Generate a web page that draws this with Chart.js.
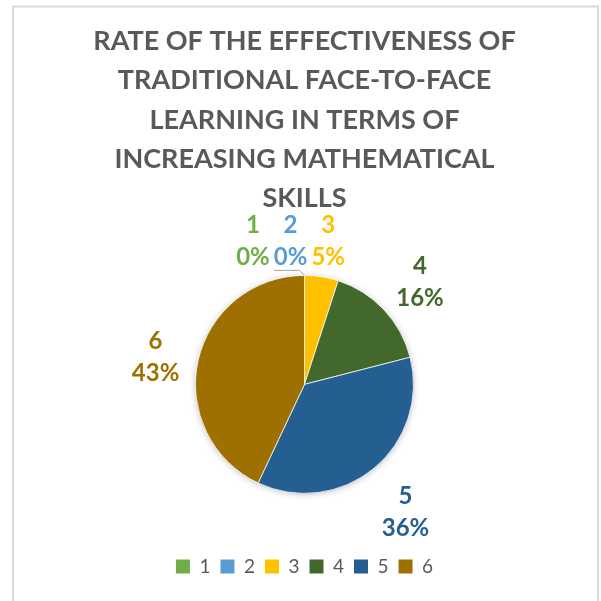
<!DOCTYPE html>
<html>
<head>
<meta charset="utf-8">
<script src="https://cdn.jsdelivr.net/npm/chart.js@4.4.1/dist/chart.umd.min.js"></script>
<style>
  html, body { margin: 0; padding: 0; background: #fff; }
  #wrap { position: relative; width: 601px; height: 601px; }
</style>
</head>
<body>
<div id="wrap"><canvas id="c" width="601" height="601"></canvas></div>
<script>
const titleLines = ['RATE OF THE EFFECTIVENESS OF', 'TRADITIONAL FACE-TO-FACE', 'LEARNING IN TERMS OF', 'INCREASING MATHEMATICAL', 'SKILLS'];
const categories = ['1', '2', '3', '4', '5', '6'];
const values = [0, 0, 5, 16, 36, 43];
const sliceColors = ['#70AD47', '#5B9BD5', '#FFC000', '#43682B', '#255E91', '#9E7000'];

const FONT = 'Lato, "Open Sans", sans-serif';
const TEXT_GRAY = '#595959';

const framePlugin = {
  id: 'frame',
  beforeDraw(chart) {
    const ctx = chart.ctx;
    ctx.save();
    ctx.fillStyle = '#fff';
    ctx.fillRect(0, 0, chart.width, chart.height);
    ctx.strokeStyle = '#D9D9D9';
    ctx.lineWidth = 2;
    ctx.strokeRect(13, 6.5, 585, 640);
    ctx.restore();
  }
};

const shadowPlugin = {
  id: 'pieShadow',
  beforeDatasetsDraw(chart) {
    const arc = chart.getDatasetMeta(0).data[0];
    if (!arc) return;
    const p = arc.getProps(['x', 'y', 'outerRadius'], true);
    const ctx = chart.ctx;
    ctx.save();
    ctx.shadowColor = 'rgba(0,0,0,0.28)';
    ctx.shadowBlur = 7;
    ctx.shadowOffsetX = 0;
    ctx.shadowOffsetY = 1;
    ctx.fillStyle = '#ffffff';
    ctx.beginPath();
    ctx.arc(p.x, p.y, p.outerRadius - 0.5, 0, Math.PI * 2);
    ctx.fill();
    ctx.restore();
  }
};

const labelPlugin = {
  id: 'sliceLabels',
  afterDatasetsDraw(chart) {
    const ctx = chart.ctx;
    const meta = chart.getDatasetMeta(0);
    const total = values.reduce((a, b) => a + b, 0);
    const GAP = 15, LH = 32, H = 50, SEP = 4, DROP = 6;
    ctx.save();
    ctx.font = '700 24px ' + FONT;
    const items = meta.data.map((arc, i) => {
      const p = arc.getProps(['x', 'y', 'startAngle', 'endAngle', 'outerRadius'], true);
      const mid = (p.startAngle + p.endAngle) / 2;
      const lines = [categories[i], Math.round(values[i] / total * 100) + '%'];
      const w = Math.max(...lines.map(t => ctx.measureText(t).width));
      const dx = Math.cos(mid), dy = Math.sin(mid);
      const ext = Math.abs(dx) * w / 2 + Math.abs(dy) * H / 2;
      const d = p.outerRadius + GAP + ext;
      const cx = p.x + dx * d, cy = p.y + dy * d + DROP;
      return { i, lines, w, cx, cy, nx: cx, ax: p.x + dx * p.outerRadius, ay: p.y + dy * p.outerRadius };
    });
    const sorted = items.slice().sort((a, b) => (a.cx - b.cx) || (a.i - b.i));
    for (let k = sorted.length - 2; k >= 0; k--) {
      const a = sorted[k], b = sorted[k + 1];
      if (Math.abs(a.cy - b.cy) < H && a.cx + a.w / 2 + SEP > b.cx - b.w / 2) {
        a.cx = b.cx - b.w / 2 - SEP - a.w / 2;
      }
    }
    items.forEach(it => {
      if (Math.abs(it.cx - it.nx) > 20) {
        const ly = Math.min(it.cy + H / 2 + 4, it.ay - 5);
        ctx.strokeStyle = '#A6A6A6';
        ctx.lineWidth = 1;
        ctx.beginPath();
        ctx.moveTo(it.cx + it.w / 2 + 4, ly);
        ctx.lineTo(it.ax - 5, ly);
        ctx.lineTo(it.ax, it.ay);
        ctx.stroke();
      }
    });
    ctx.textAlign = 'center';
    ctx.textBaseline = 'middle';
    items.forEach(it => {
      ctx.fillStyle = sliceColors[it.i];
      ctx.fillText(it.lines[0], it.cx, it.cy - LH / 2);
      ctx.fillText(it.lines[1], it.cx, it.cy + LH / 2);
    });
    ctx.restore();
  }
};

function build() {
  new Chart(document.getElementById('c'), {
    type: 'pie',
    data: {
      labels: categories,
      datasets: [{
        data: values,
        backgroundColor: sliceColors,
        borderColor: '#ffffff',
        borderWidth: 0.75,
        radius: 109
      }]
    },
    options: {
      responsive: false,
      animation: false,
      events: [],
      layout: { padding: { left: 8, right: 0, top: 0, bottom: 15 } },
      plugins: {
        title: {
          display: true,
          text: titleLines,
          color: TEXT_GRAY,
          font: { family: FONT, size: 27, weight: '700', lineHeight: 1.45 },
          padding: { top: 22, bottom: 4 }
        },
        legend: {
          display: true,
          position: 'bottom',
          labels: {
            color: TEXT_GRAY,
            font: { family: FONT, size: 19 },
            boxWidth: 14,
            boxHeight: 14,
            padding: 10,
            generateLabels(chart) {
              const base = Chart.overrides.pie.plugins.legend.labels.generateLabels(chart);
              return base.map(l => Object.assign(l, { lineWidth: 0, strokeStyle: 'rgba(0,0,0,0)' }));
            }
          }
        },
        tooltip: { enabled: false }
      }
    },
    plugins: [framePlugin, shadowPlugin, labelPlugin]
  });
}

const fontLoads = document.fonts ? Promise.all([
  document.fonts.load('700 27px Lato'),
  document.fonts.load('400 19px Lato')
]).catch(() => {}) : Promise.resolve();
Promise.race([fontLoads, new Promise(r => setTimeout(r, 800))]).then(build);
</script>
</body>
</html>
